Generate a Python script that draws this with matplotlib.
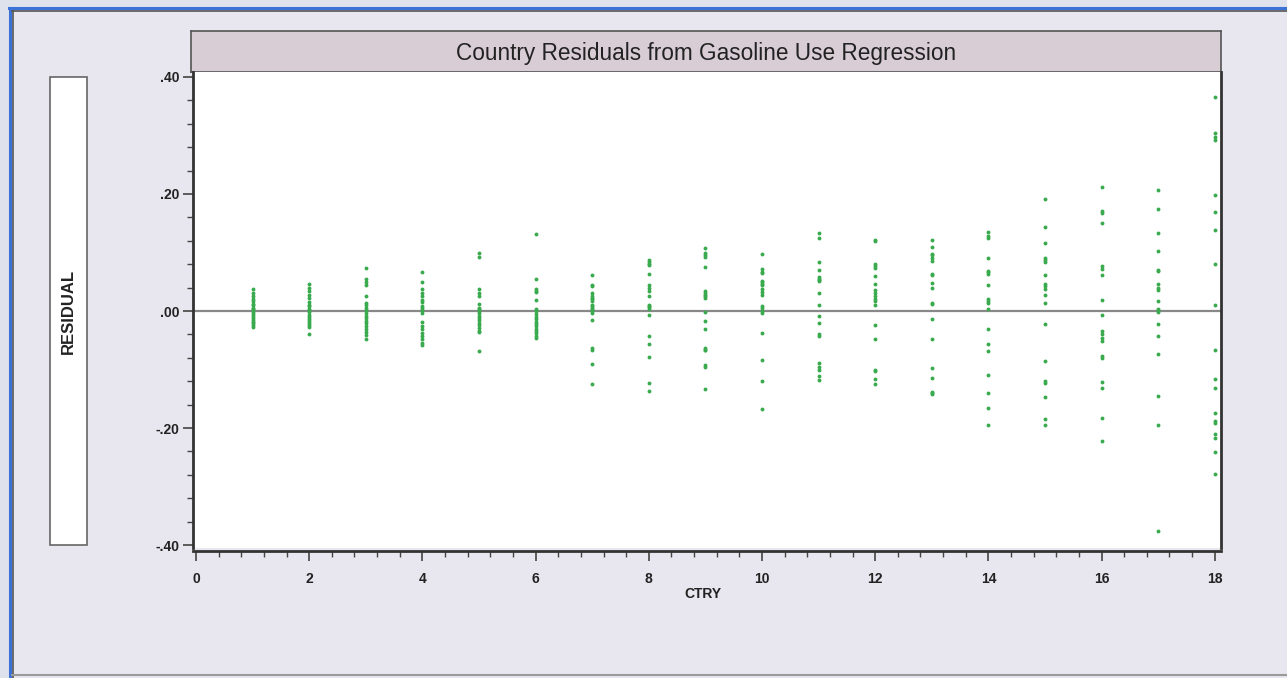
import matplotlib
matplotlib.use('Agg')
import matplotlib.pyplot as plt
from matplotlib.patches import Rectangle
from matplotlib.ticker import MultipleLocator


# residuals per country (19 years each)
ctry_ids = list(range(1, 19))
residuals = [
    [0.038, 0.030, 0.025, 0.020, 0.017, 0.012, 0.010, 0.006, 0.003, 0.001,
     -0.002, -0.005, -0.008, -0.012, -0.015, -0.018, -0.021, -0.024, -0.027],
    [0.047, 0.040, 0.034, 0.027, 0.022, 0.016, 0.011, 0.008, 0.004, 0.001,
     -0.002, -0.006, -0.010, -0.013, -0.017, -0.020, -0.024, -0.028, -0.039],
    [0.073, 0.055, 0.050, 0.045, 0.025, 0.014, 0.010, 0.006, 0.001, -0.004,
     -0.008, -0.012, -0.017, -0.021, -0.025, -0.030, -0.035, -0.041, -0.047],
    [0.067, 0.050, 0.038, 0.030, 0.025, 0.019, 0.015, 0.009, 0.005, 0.001,
     -0.003, -0.019, -0.025, -0.030, -0.037, -0.042, -0.048, -0.054, -0.058],
    [0.099, 0.092, 0.038, 0.030, 0.025, 0.012, 0.006, 0.003, 0.000, -0.003,
     -0.008, -0.012, -0.016, -0.020, -0.024, -0.029, -0.034, -0.036, -0.068],
    [0.132, 0.055, 0.038, 0.035, 0.033, 0.019, 0.003, 0.000, -0.005, -0.010,
     -0.014, -0.018, -0.022, -0.026, -0.030, -0.034, -0.038, -0.042, -0.046],
    [0.062, 0.044, 0.042, 0.030, 0.026, 0.023, 0.020, 0.017, 0.011, 0.008,
     0.006, 0.003, 0.000, -0.003, -0.015, -0.064, -0.067, -0.091, -0.125],
    [0.087, 0.083, 0.080, 0.078, 0.064, 0.044, 0.040, 0.034, 0.026, 0.011,
     0.009, 0.007, 0.004, -0.007, -0.042, -0.056, -0.078, -0.123, -0.136],
    [0.108, 0.100, 0.095, 0.093, 0.075, 0.034, 0.030, 0.028, 0.026, 0.023,
     -0.002, -0.017, -0.031, -0.064, -0.066, -0.067, -0.093, -0.095, -0.134],
    [0.097, 0.071, 0.067, 0.065, 0.052, 0.050, 0.047, 0.044, 0.038, 0.033,
     0.028, 0.009, 0.006, 0.000, -0.003, -0.037, -0.084, -0.120, -0.168],
    [0.133, 0.124, 0.084, 0.070, 0.058, 0.055, 0.053, 0.051, 0.031, 0.010,
     -0.009, -0.021, -0.040, -0.043, -0.089, -0.095, -0.100, -0.111, -0.118],
    [0.122, 0.120, 0.080, 0.077, 0.074, 0.060, 0.047, 0.036, 0.030, 0.026,
     0.021, 0.017, 0.010, -0.024, -0.048, -0.100, -0.103, -0.116, -0.125],
    [0.121, 0.110, 0.097, 0.095, 0.091, 0.085, 0.063, 0.061, 0.048, 0.039,
     0.014, 0.012, -0.013, -0.047, -0.097, -0.114, -0.138, -0.140, -0.142],
    [0.135, 0.129, 0.125, 0.091, 0.068, 0.066, 0.063, 0.044, 0.020, 0.017,
     0.014, 0.004, -0.030, -0.057, -0.068, -0.110, -0.140, -0.166, -0.195],
    [0.192, 0.144, 0.117, 0.091, 0.087, 0.083, 0.061, 0.046, 0.042, 0.037,
     0.028, 0.013, -0.022, -0.085, -0.120, -0.123, -0.147, -0.185, -0.194],
    [0.212, 0.171, 0.167, 0.151, 0.077, 0.072, 0.061, 0.019, -0.007, -0.034,
     -0.040, -0.046, -0.051, -0.077, -0.080, -0.121, -0.132, -0.182, -0.222],
    [0.207, 0.175, 0.133, 0.103, 0.070, 0.068, 0.046, 0.040, 0.036, 0.017,
     0.004, 0.002, -0.002, -0.023, -0.043, -0.074, -0.145, -0.194, -0.376],
    [0.366, 0.304, 0.298, 0.293, 0.199, 0.170, 0.138, 0.080, 0.010, -0.066,
     -0.117, -0.131, -0.175, -0.188, -0.192, -0.211, -0.217, -0.241, -0.279],
]
y_ticks = [-0.40, -0.20, 0.00, 0.20, 0.40]
y_labels = ['-.40', '-.20', '.00', '.20', '.40']
x_ticks = list(range(0, 19, 2))

W, H = 1287, 678
BG = '#e8e6ee'

plt.rcParams['font.family'] = ['Liberation Sans', 'DejaVu Sans']
plt.rcParams['font.weight'] = 'bold'  # all the axis text is bold, title is not

fig = plt.figure(figsize=(W / 100, H / 100), dpi=100)
fig.patch.set_facecolor(BG)


def px_box(x0, y0, x1, y1):
    # pixel box (top-left origin) -> figure fraction rect
    return [x0 / W, 1 - y1 / H, (x1 - x0) / W, (y1 - y0) / H]


def fig_line(xs, ys, **kw):
    fig.add_artist(plt.Line2D([x / W for x in xs], [1 - y / H for y in ys],
                              transform=fig.transFigure, **kw))


# window frame
fig.add_artist(Rectangle((0, 1 - 7 / H), 1, 7 / H, transform=fig.transFigure,
                         facecolor='#dde2ec', edgecolor='none'))
fig.add_artist(Rectangle((0, 0), 9 / W, 1, transform=fig.transFigure,
                         facecolor='#dde2ec', edgecolor='none'))
fig_line([9, W], [8, 8], color='#3a72d8', lw=2.2)
fig_line([10, 10], [8, H], color='#3a72d8', lw=2.2)
fig_line([12, W], [11, 11], color='#555555', lw=1.2)
fig_line([13, 13], [11, H], color='#555555', lw=1.2)
fig_line([12, W], [675, 675], color='#9a9a9a', lw=1.5)

# y label box
r = px_box(50, 77, 87, 545)
fig.add_artist(Rectangle((r[0], r[1]), r[2], r[3], transform=fig.transFigure,
                         facecolor='white', edgecolor='#666666', lw=1.2))
fig.text(r[0] + r[2] / 2, r[1] + r[3] / 2, 'RESIDUAL', rotation=90, ha='center',
         va='center', fontsize=12, fontweight='bold', color='#222222')

# title bar
tax = fig.add_axes(px_box(191, 31, 1221, 72))
tax.set_facecolor('#d8cdd4')
tax.set_xticks([])
tax.set_yticks([])
for s in tax.spines.values():
    s.set_color('#555555')
    s.set_linewidth(1.2)
tax.text(0.5, 0.45, 'Country Residuals from Gasoline Use Regression', ha='center',
         va='center', fontsize=16.3, fontweight='normal', color='#222222',
         transform=tax.transAxes)

# main plot
ax = fig.add_axes(px_box(193, 72, 1221, 548))
ax.set_facecolor('white')
for c, vals in zip(ctry_ids, residuals):
    ax.plot([c] * len(vals), vals, 'o', color='#3aaa4f', ms=2.8, mec='none', clip_on=False)
ax.axhline(0, color='#888888', lw=1.6, zorder=0)

ax.set_xlim(-0.053, 18.11)
ax.set_ylim(-0.405, 0.4085)
ax.set_xticks(x_ticks)
ax.set_xticklabels([str(t) for t in x_ticks])
ax.set_yticks(y_ticks)
ax.set_yticklabels(y_labels)
ax.xaxis.set_minor_locator(MultipleLocator(0.4))
ax.yaxis.set_minor_locator(MultipleLocator(0.04))
ax.tick_params(axis='both', which='major', length=7, width=1.2, color='#444444',
               labelsize=10, labelcolor='#222222')
ax.tick_params(axis='both', which='minor', length=4, width=1.0, color='#444444')
ax.tick_params(axis='x', pad=8)
ax.tick_params(axis='y', pad=3)
ax.spines['top'].set_visible(False)
for s in ['left', 'right', 'bottom']:
    ax.spines[s].set_color('#333333')
    ax.spines[s].set_linewidth(2)
ax.spines['bottom'].set_position(('outward', 2))
ax.set_xlabel('CTRY', fontsize=10, fontweight='bold', color='#222222')
ax.xaxis.set_label_coords(0.496, -0.082)

fig.savefig('out.png', dpi=100, facecolor=fig.get_facecolor())
